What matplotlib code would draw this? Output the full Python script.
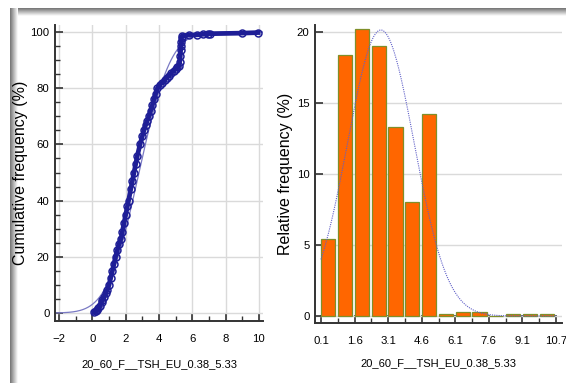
import numpy as np
import matplotlib
matplotlib.use("Agg")
import matplotlib.pyplot as plt
from matplotlib.ticker import MultipleLocator, FixedLocator

plt.rcParams['font.family'] = ['Liberation Sans', 'DejaVu Sans']

# data
XLABEL = "20_60_F__TSH_EU_0.38_5.33"

# empirical cumulative frequency (left panel)
cdf_x = [0.08, 0.2, 0.3, 0.36, 0.45, 0.55, 0.6, 0.7, 0.8, 0.9, 1.0, 1.1, 1.2, 1.3,
         1.39, 1.5, 1.6, 1.72, 1.8, 1.9, 2.0, 2.1, 2.17, 2.3, 2.4, 2.5, 2.6, 2.7,
         2.86, 3.0, 3.1, 3.2, 3.3, 3.4, 3.5, 3.6, 3.7, 3.8, 3.9, 4.05, 4.2, 4.35,
         4.5, 4.6, 4.75, 4.9, 5.0, 5.1, 5.2, 5.25, 5.28, 5.3, 5.32, 5.34, 5.36,
         5.4, 5.8, 6.3, 6.67, 6.95, 7.07, 8.96, 9.96]
cdf_y = [0.3, 0.6, 1.2, 1.8, 2.6, 3.8, 4.6, 5.7, 7.0, 8.2, 10.0, 12.5, 15.0, 17.6,
         20.0, 22.5, 24.5, 26.5, 29.0, 32.0, 35.0, 38.0, 40.0, 44.0, 47.0, 50.0,
         53.0, 56.0, 60.0, 63.0, 65.0, 67.0, 68.5, 70.0, 72.0, 74.0, 76.0, 78.0,
         80.0, 81.2, 82.0, 83.0, 83.8, 84.5, 85.5, 86.3, 87.0, 87.5, 88.0, 89.5,
         91.5, 93.5, 95.0, 96.5, 98.0, 98.7, 98.9, 99.0, 99.2, 99.3, 99.4, 99.6,
         99.8]

# histogram (right panel)
bin_start = 0.1
bin_stop = 10.7
rel_freq = [5.4, 18.35, 20.2, 19.0, 13.3, 8.0, 14.2, 0.15, 0.25, 0.25, 0.0,
            0.15, 0.15, 0.15]
bin_tick_labels = ["0.1", "1.6", "3.1", "4.6", "6.1", "7.6", "9.1", "10.7"]

# fitted normal
MU = 2.8
SD = 1.5

NAVY = "#1e1e96"
FIT = "#7a7ac4"


def norm_cdf(x):
    from math import erf
    return np.array([0.5 * (1 + erf((v - MU) / (SD * np.sqrt(2)))) for v in x])


def style_axis(ax):
    for s in ("top", "right"):
        ax.spines[s].set_visible(False)
    for s in ("left", "bottom"):
        ax.spines[s].set_color("#333333")
        ax.spines[s].set_linewidth(1.4)
    ax.tick_params(which="both", direction="in", color="#333333", labelsize=8.2)
    ax.tick_params(axis="x", pad=9)
    ax.tick_params(axis="y", pad=4)
    ax.tick_params(which="major", length=6, width=1.2)
    ax.tick_params(which="minor", length=3.5, width=1.0)
    ax.set_facecolor("none")
    ax.set_axisbelow(True)


fig = plt.figure(figsize=(5.66, 3.83), dpi=100)

# screenshot frame
bg = fig.add_axes([0, 0, 1, 1], zorder=-5)
bg.set_xlim(0, 566)
bg.set_ylim(383, 0)
bg.axis("off")
grad = np.linspace(0.45, 1.0, 32)
bg.imshow(grad[:, None], cmap="gray", vmin=0, vmax=1, aspect="auto",
          extent=(11, 566, 16, 8), interpolation="bilinear")
bg.imshow(grad[None, :], cmap="gray", vmin=0, vmax=1, aspect="auto",
          extent=(10, 18, 383, 8), interpolation="bilinear")

# left panel: cumulative frequency
ax1 = fig.add_axes([55 / 566, 62 / 383, 208 / 566, 296 / 383])
style_axis(ax1)
xs = np.linspace(-2.25, 10.25, 300)
ax1.plot(xs, 100 * norm_cdf(xs), color=FIT, lw=0.9)
ax1.plot(cdf_x, cdf_y, color=NAVY, lw=3.4, marker="o", ms=5, mfc="none",
         mec=NAVY, mew=1.1, solid_joinstyle="round")
ax1.set_xlim(-2.25, 10.25)
ax1.set_ylim(-2.85, 102.5)
ax1.xaxis.set_major_locator(MultipleLocator(2))
ax1.xaxis.set_minor_locator(MultipleLocator(1))
ax1.yaxis.set_major_locator(MultipleLocator(20))
ax1.yaxis.set_minor_locator(MultipleLocator(5))
ax1.grid(True, which="major", color="#dadada", lw=1)
ax1.set_ylabel("Cumulative frequency (%)", fontsize=11.5, labelpad=2)
ax1.set_xlabel(XLABEL, fontsize=8, labelpad=11)

# right panel: relative frequency histogram
ax2 = fig.add_axes([315 / 566, 60 / 383, 247 / 566, 298 / 383])
style_axis(ax2)
n_bins = len(rel_freq)
bw = (bin_stop - bin_start) / n_bins
edges = bin_start + bw * np.arange(n_bins + 1)
ax2.bar(edges[:-1] + 0.02 * bw, rel_freq, width=0.84 * bw, align="edge",
        color="#ff6600", edgecolor="#7f8f2a", lw=0.9, zorder=2)
xs2 = np.linspace(bin_start, bin_stop, 300)
pdf = 100 * bw / (SD * np.sqrt(2 * np.pi)) * np.exp(-0.5 * ((xs2 - MU) / SD) ** 2)
ax2.plot(xs2, pdf, color="#6060c8", lw=0.8, ls=(0, (1, 1)), zorder=3)
ax2.set_xlim(bin_start - 0.27, bin_stop + 0.27)
ax2.set_ylim(-0.49, 20.49)
ax2.xaxis.set_major_locator(FixedLocator(edges[::2]))
ax2.set_xticklabels(bin_tick_labels)
ax2.xaxis.set_minor_locator(FixedLocator(edges))
ax2.yaxis.set_major_locator(MultipleLocator(5))
ax2.grid(True, which="major", axis="y", color="#dadada", lw=1)
ax2.set_ylabel("Relative frequency (%)", fontsize=11.5, labelpad=3)
ax2.set_xlabel(XLABEL, fontsize=8, labelpad=9)

fig.savefig("out.png", dpi=100)
